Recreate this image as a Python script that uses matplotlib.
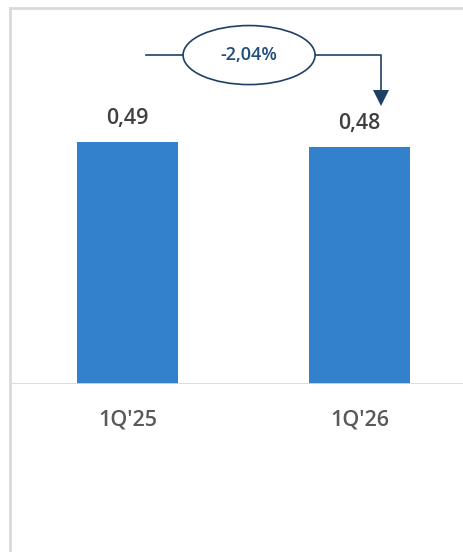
import matplotlib
matplotlib.use("Agg")
from matplotlib import pyplot as plt
from matplotlib.patches import Ellipse
from matplotlib.lines import Line2D

plt.rcParams['font.family'] = ['Open Sans', 'DejaVu Sans']

# Data
categories = ["1Q'25", "1Q'26"]
values = [0.49, 0.48]

bar_color = '#3381cc'
navy = '#1f3f66'
grid_gray = '#d9d9d9'

W, H = 464, 552
fig = plt.figure(figsize=(W / 100, H / 100), dpi=100)

# axes laid out in pixel terms: baseline at y=384, frame top at y=8
ax = fig.add_axes([10 / W, (H - 384) / H, (W - 10) / W, 376 / H])
x = list(range(len(categories)))
ax.bar(x, values, width=0.435, color=bar_color, zorder=2)
ax.set_xlim(-0.5065, 1.4504)
ax.set_ylim(0, 0.7613)
ax.axis('off')

# baseline
ax.axhline(0, color=grid_gray, lw=2, zorder=3)

# value labels
for xi, v in zip(x, values):
    ax.annotate(f"{v:.2f}".replace('.', ','), (xi, v), xytext=(0, 17),
                textcoords='offset points', ha='center', va='center',
                fontsize=15.5, color='#404040', fontweight='semibold')

# category labels
for xi, c in zip(x, categories):
    ax.annotate(c, (xi, 0), xytext=(0, -26), textcoords='offset points',
                ha='center', va='center', fontsize=15.5, color='#595959',
                fontweight='semibold')

# outer frame (left and top)
fig.add_artist(Line2D([10 / W, 10 / W], [0, 1 - 8 / H], color=grid_gray, lw=2,
                      transform=fig.transFigure))
fig.add_artist(Line2D([10 / W, 1], [1 - 8 / H, 1 - 8 / H], color=grid_gray, lw=2,
                      transform=fig.transFigure))

# change annotation
change = values[1] / values[0] - 1
y_line = 0.666
ell_x, ell_w, ell_h = 0.524, 0.569, 0.1195
x_left = 0.08
x_right = x[1] + 0.093
y_tip = 0.563

ax.plot([x_left, ell_x - ell_w / 2], [y_line, y_line], color=navy, lw=1.2)
ax.plot([ell_x + ell_w / 2, x_right, x_right], [y_line, y_line, y_tip + 0.025],
        color=navy, lw=1.2)
ax.plot([x_right], [y_tip + 0.0152], marker='v', ms=11, color=navy,
        markeredgewidth=0)
ax.add_patch(Ellipse((ell_x, y_line), ell_w, ell_h, facecolor='white',
                     edgecolor=navy, lw=1.2, zorder=4))
ax.text(ell_x, y_line, f"{change * 100:.2f}%".replace('.', ','), ha='center',
        va='center', fontsize=13, color='#1f4e79', fontweight='semibold',
        zorder=5)

fig.savefig('out.png', dpi=100)
